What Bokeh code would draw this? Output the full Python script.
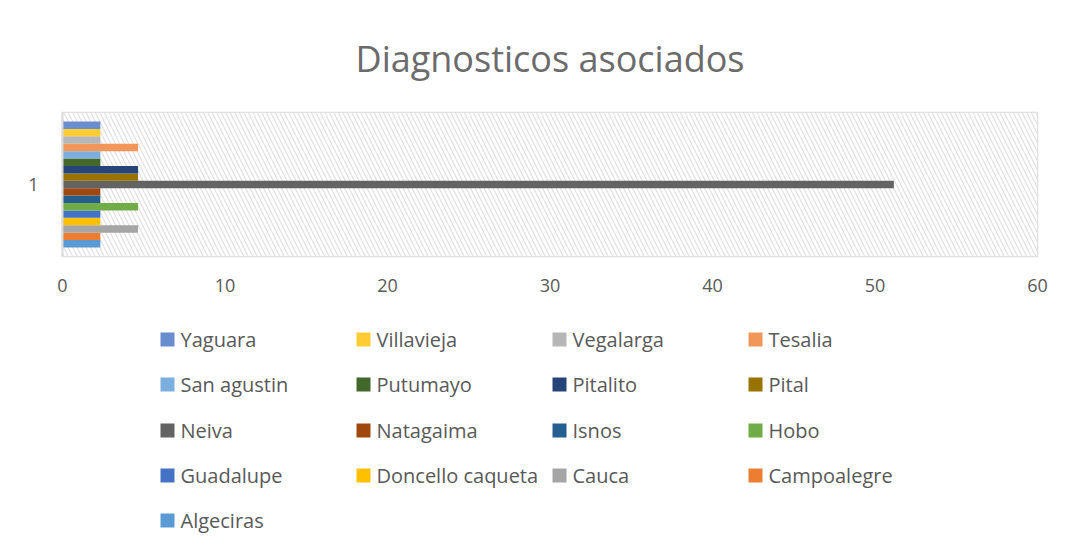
from bokeh.plotting import figure
from bokeh.layouts import column
from bokeh.models import FactorRange, Range1d, BoxAnnotation, FixedTicker, ColumnDataSource
from bokeh.transform import dodge
from bokeh.core.properties import value
from bokeh.embed import file_html
from bokeh.resources import INLINE

# Series from bottom bar to top bar
series = ["Algeciras", "Campoalegre", "Cauca", "Doncello caqueta", "Guadalupe",
          "Hobo", "Isnos", "Natagaima", "Neiva", "Pital", "Pitalito", "Putumayo",
          "San agustin", "Tesalia", "Vegalarga", "Villavieja", "Yaguara"]
values = [2.33, 2.33, 4.65, 2.33, 2.33,
          4.65, 2.33, 2.33, 51.16, 4.65, 4.65, 2.33,
          2.33, 4.65, 2.33, 2.33, 2.33]
colors = ["#5B9BD5", "#ED7D31", "#A5A5A5", "#FFC000", "#4472C4",
          "#70AD47", "#255E91", "#9E480E", "#636363", "#997300", "#264478", "#43682B",
          "#7CAFDD", "#F1975A", "#B7B7B7", "#FFCD33", "#698ED0"]
categories = ["1"]
x_ticks = [0, 10, 20, 30, 40, 50, 60]

TXT = "#595959"
GRID = "#d9d9d9"
FONT = "Open Sans"
W = 1070
FL, FR = 62, 1037  # frame edges in page pixels

p = figure(width=W, height=300, output_backend="svg", toolbar_location=None,
           y_range=FactorRange(*categories), x_range=Range1d(0, 60),
           min_border_left=FL, min_border_right=W - FR, min_border_top=112,
           min_border_bottom=44)

p.title.text = "Diagnosticos asociados"
p.title.align = "center"
p.title.text_font = FONT
p.title.text_font_size = "36px"
p.title.text_font_style = "normal"
p.title.text_color = "#6b6b6b"
p.title.standoff = 60

hatch = BoxAnnotation(fill_color="white", fill_alpha=1.0, line_color=None,
                      hatch_pattern="\\", hatch_color="#e0e0e0", hatch_scale=9,
                      hatch_weight=1.2, level="underlay")
p.add_layout(hatch)

n = len(series)
h = 0.875 / n
for i, (name, v, c) in enumerate(zip(series, values, colors)):
    src = {"cat": categories, "val": [v]}
    p.hbar(y=dodge("cat", (i - (n - 1) / 2) * h, range=p.y_range), right="val",
           left=0, height=h * 0.999, color=c, line_color=None, source=src)

p.xaxis.ticker = FixedTicker(ticks=x_ticks)
p.xaxis.axis_line_color = None
p.xaxis.major_tick_line_color = None
p.xaxis.minor_tick_line_color = None
p.xaxis.major_label_text_font = FONT
p.xaxis.major_label_text_font_size = "18px"
p.xaxis.major_label_text_color = TXT
p.xaxis.major_label_standoff = 16

p.yaxis.axis_line_color = GRID
p.yaxis.axis_line_width = 2
p.yaxis.major_tick_line_color = None
p.yaxis.minor_tick_line_color = None
p.yaxis.major_label_text_font = FONT
p.yaxis.major_label_text_font_size = "18px"
p.yaxis.major_label_text_color = TXT
p.yaxis.major_label_standoff = 18

p.xgrid.grid_line_color = GRID
p.xgrid.grid_line_width = 1.5
p.ygrid.grid_line_color = None
p.outline_line_color = GRID
p.outline_line_width = 1.5
p.background_fill_color = "white"
p.border_fill_color = "white"

# Legend drawn in its own panel (row-major, 4 columns, reversed series order)
LH = 242
leg = figure(width=W, height=LH, output_backend="svg", toolbar_location=None,
             x_range=Range1d(FL, FR), y_range=Range1d(LH, 0),
             min_border_left=FL, min_border_right=W - FR, min_border_top=0,
             min_border_bottom=0, outline_line_color=None)
leg.axis.visible = False
leg.grid.visible = False
order = list(range(n))[::-1]
col_x = [160, 356, 552, 748]
row_y = [39, 84, 130, 175, 220]
lx, ly, lc, ln = [], [], [], []
for k, idx in enumerate(order):
    r, cc = divmod(k, 4)
    lx.append(col_x[cc])
    ly.append(row_y[r])
    lc.append(colors[idx])
    ln.append(series[idx])
lsrc = ColumnDataSource(dict(x=lx, y=ly, c=lc, name=ln, tx=[x + 20 for x in lx]))
leg.rect(x=dodge("x", 7), y="y", width=14, height=14, fill_color="c",
         line_color=None, source=lsrc)
leg.text(x="tx", y="y", text="name", source=lsrc, text_font=value(FONT),
         text_font_size="20px", text_color=TXT, text_baseline="middle",
         text_align="left")

open("out.html", "w").write(file_html(column(p, leg, spacing=0), INLINE))
